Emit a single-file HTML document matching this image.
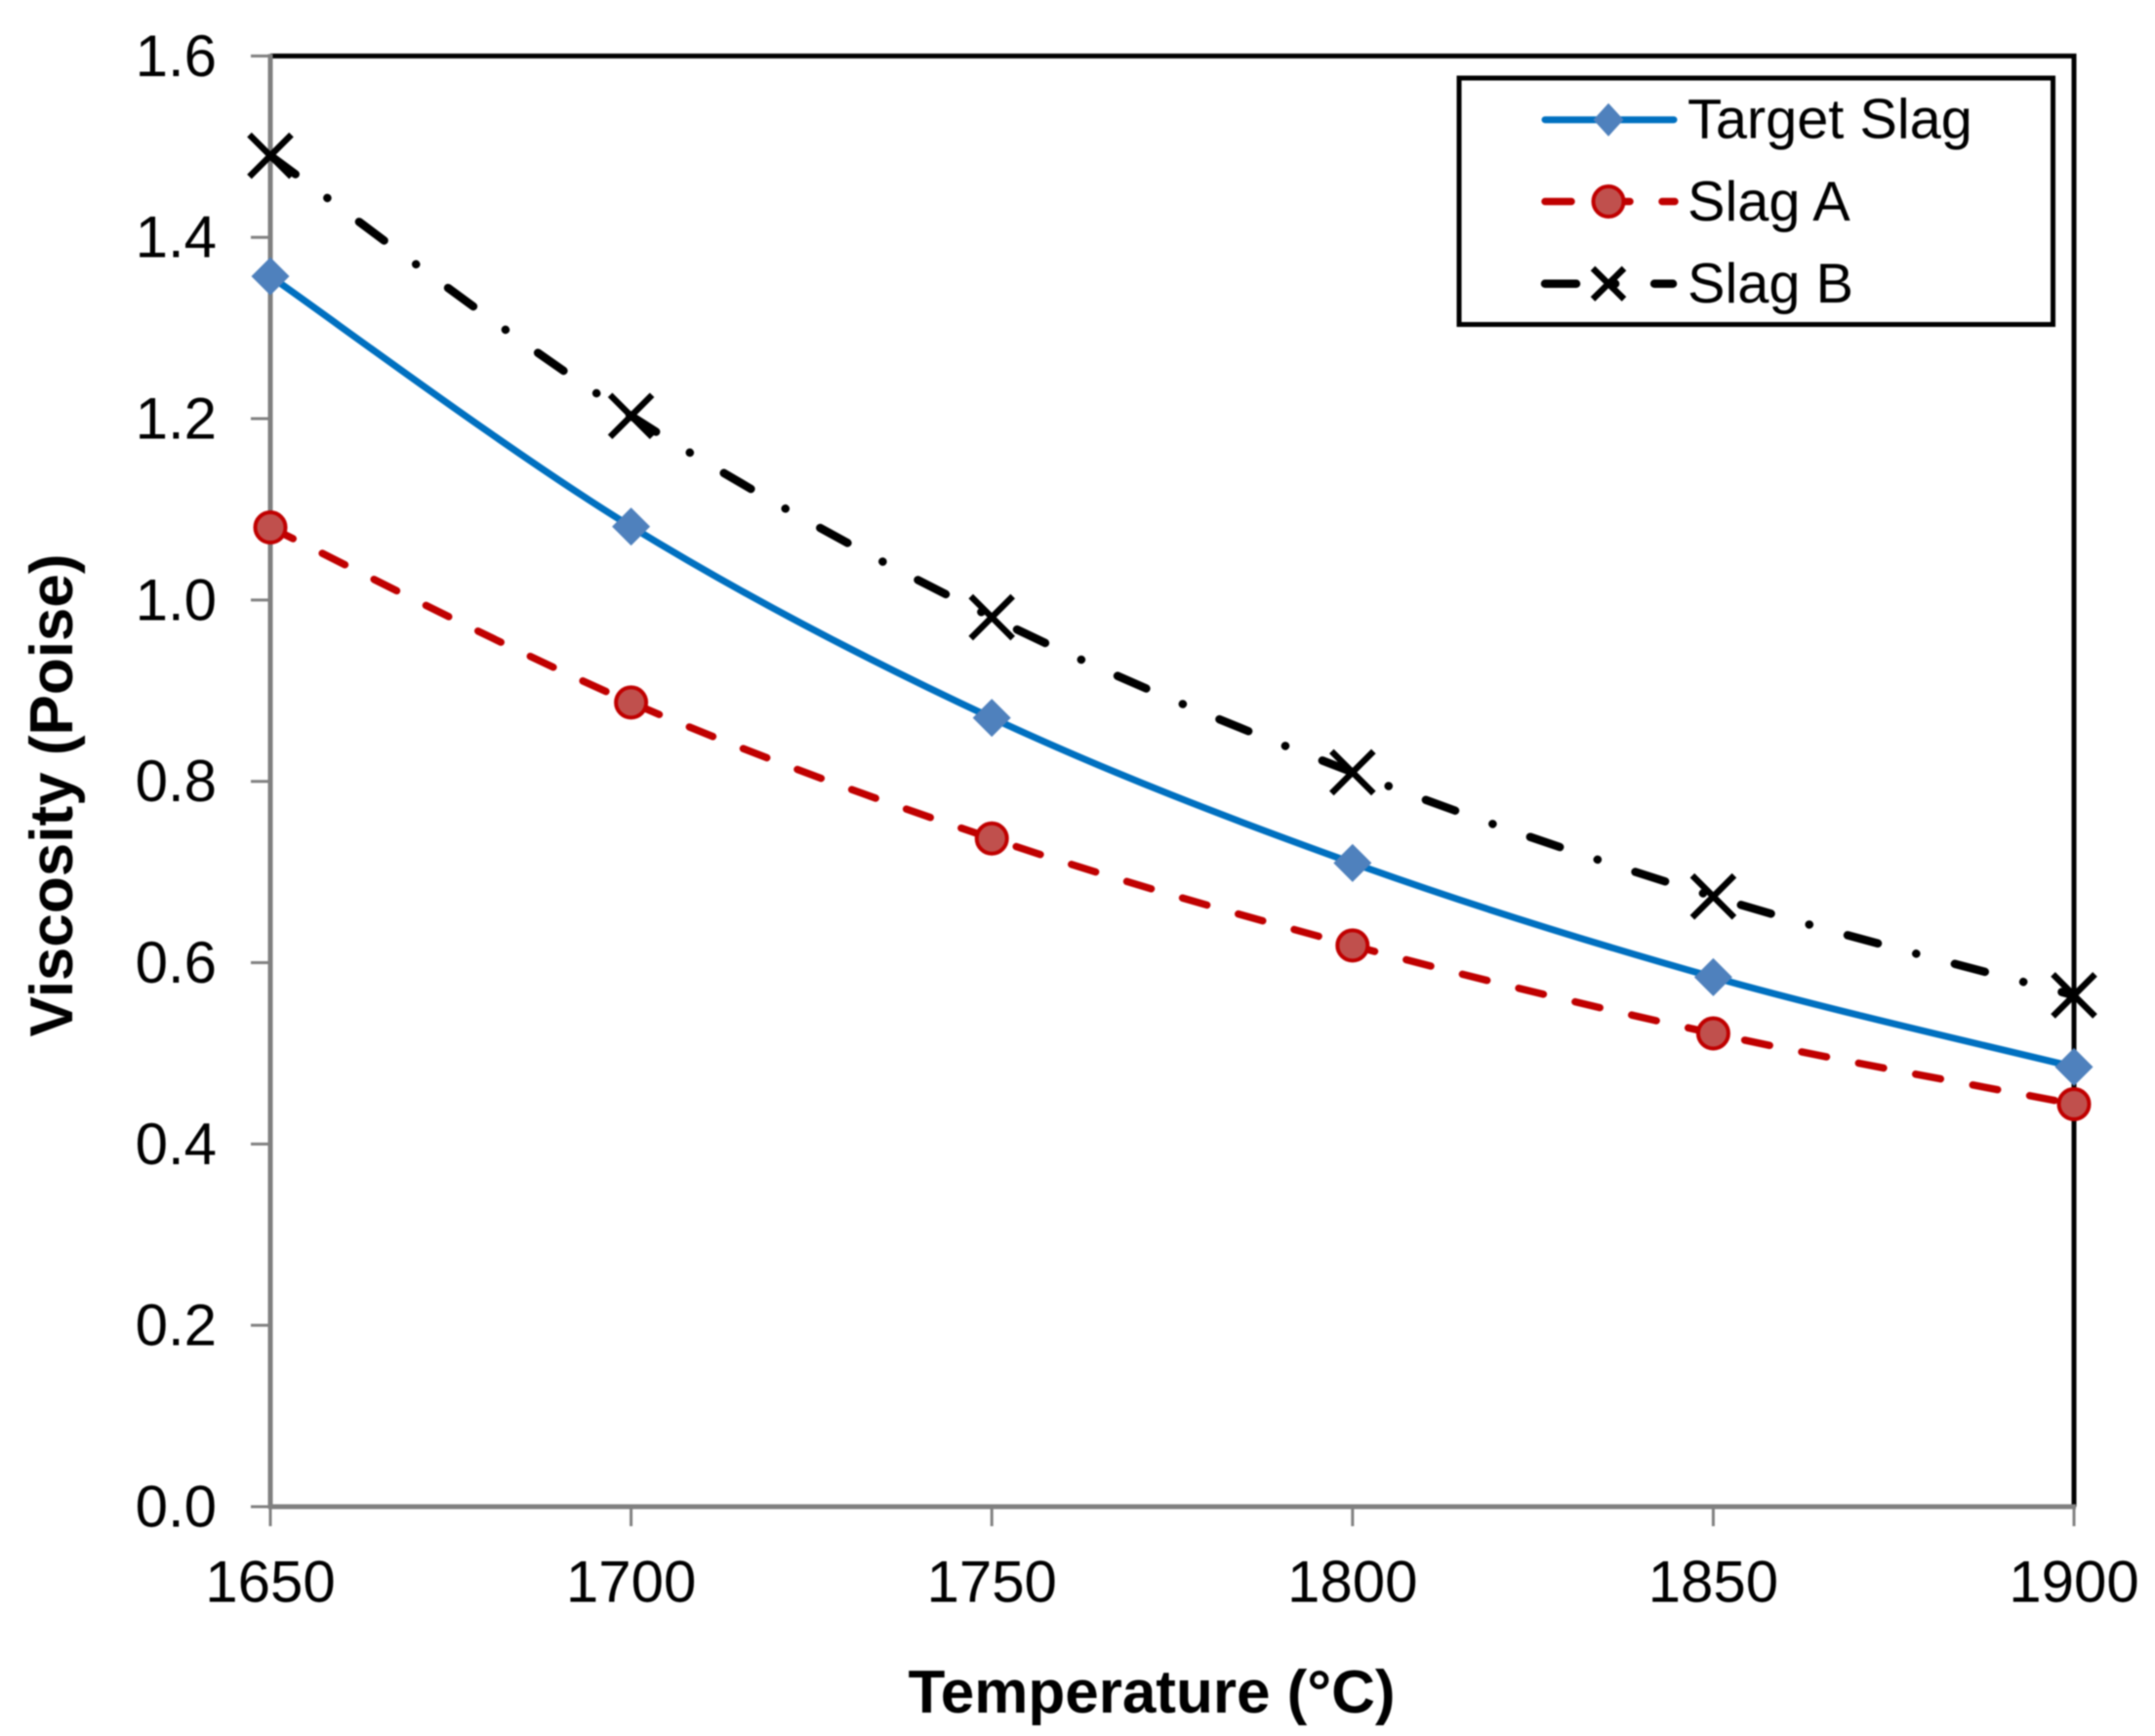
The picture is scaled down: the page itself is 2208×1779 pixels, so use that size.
<!DOCTYPE html>
<html lang="en">
<head>
<meta charset="utf-8">
<title>Viscosity vs Temperature</title>
<style>
html,body{margin:0;padding:0;background:#fff;}
#chart{display:block;width:2208px;height:1779px;font-family:"Liberation Sans",Arial,sans-serif;filter:blur(0.7px);}
</style>
</head>
<body>
<svg id="chart" xmlns="http://www.w3.org/2000/svg" width="2208" height="1779" viewBox="0 0 2208 1779">
  <rect x="0" y="0" width="2208" height="1779" fill="#ffffff"/>
  <g id="axes"></g>
  <g id="series"></g>
  <text x="1180" y="1755" font-size="62" font-weight="bold" text-anchor="middle" fill="#000">Temperature (°C)</text>
  <text transform="translate(74 815) rotate(-90)" font-size="62" font-weight="bold" text-anchor="middle" fill="#000">Viscosity (Poise)</text>
  <g>
    <rect x="1495" y="80" width="608.5" height="252.5" fill="#ffffff" stroke="#000" stroke-width="5"/>
    <g>
      <path d="M1583 122.7H1715" fill="none" stroke="#0070C0" stroke-width="7" stroke-linecap="round"/>
      <path d="M1648 105.7L1663.5 122.7L1648 139.7L1632.5 122.7Z" fill="#4F81BD"/>
      <text x="1729" y="141.5" font-size="57.7" fill="#000">Target Slag</text>
    </g>
    <g>
      <path d="M1583 206.5H1716" fill="none" stroke="#C00000" stroke-width="7.5" stroke-linecap="round" stroke-dasharray="27 33"/>
      <circle cx="1648" cy="206.5" r="15.5" fill="#C0504D" stroke="#C00000" stroke-width="4"/>
      <text x="1729" y="226" font-size="57.7" fill="#000">Slag A</text>
    </g>
    <g>
      <path d="M1583 290.7H1714" fill="none" stroke="#000" stroke-width="8.5" stroke-linecap="round" stroke-dasharray="32 40 0.1 40"/>
      <path d="M1632 275L1664 306.5M1664 275L1632 306.5" fill="none" stroke="#000" stroke-width="6.5"/>
      <text x="1729" y="310" font-size="57.7" fill="#000">Slag B</text>
    </g>
  </g>
</svg>
<script>
const temperatures = [1650, 1700, 1750, 1800, 1850, 1900];
const yTickValues = [0, 0.2, 0.4, 0.6, 0.8, 1.0, 1.2, 1.4, 1.6];
const yTickLabels = ["0.0", "0.2", "0.4", "0.6", "0.8", "1.0", "1.2", "1.4", "1.6"];
const xTickLabels = ["1650", "1700", "1750", "1800", "1850", "1900"];
const targetSlag = [1.357, 1.081, 0.870, 0.710, 0.584, 0.485];
const slagA = [1.080, 0.887, 0.737, 0.619, 0.522, 0.444];
const slagB = [1.490, 1.203, 0.981, 0.810, 0.673, 0.564];

const NS = "http://www.w3.org/2000/svg";
const plot = { left: 277, right: 2125, top: 57.4, bottom: 1544 };
const xMin = 1650, xMax = 1900, yMin = 0, yMax = 1.6;
function xScale(v) { return plot.left + (v - xMin) / (xMax - xMin) * (plot.right - plot.left); }
function yScale(v) { return plot.bottom - (v - yMin) / (yMax - yMin) * (plot.bottom - plot.top); }
function make(tag, attrs, parent) {
  const el = document.createElementNS(NS, tag);
  for (const k in attrs) el.setAttribute(k, attrs[k]);
  parent.appendChild(el);
  return el;
}
function smoothPath(values) {
  const p = values.map((v, i) => [xScale(temperatures[i]), yScale(v)]);
  let d = "M" + p[0][0] + " " + p[0][1];
  for (let i = 0; i < p.length - 1; i++) {
    const a = p[Math.max(i - 1, 0)], b = p[i], c = p[i + 1], e = p[Math.min(i + 2, p.length - 1)];
    d += "C" + (b[0] + (c[0] - a[0]) / 6) + " " + (b[1] + (c[1] - a[1]) / 6) + " " +
         (c[0] - (e[0] - b[0]) / 6) + " " + (c[1] - (e[1] - b[1]) / 6) + " " + c[0] + " " + c[1];
  }
  return d;
}

const axes = document.getElementById("axes");
const seriesLayer = document.getElementById("series");

yTickValues.forEach((v, i) => {
  const y = yScale(v);
  const tick = make("line", { x1: plot.left - 20, x2: plot.left, y1: y, y2: y, stroke: "#808080", "stroke-width": 3 }, axes);
  
  
  const label = make("text", { x: 222, y: y + 20.5, "font-size": 60, "text-anchor": "end", fill: "#000" }, axes);
  label.textContent = yTickLabels[i];
  
  
});

temperatures.forEach((t, i) => {
  const x = xScale(t);
  const tick = make("line", { x1: x, x2: x, y1: plot.bottom, y2: plot.bottom + 20, stroke: "#808080", "stroke-width": 3 }, axes);
  
  
  const label = make("text", { x: x, y: 1641.5, "font-size": 60, "text-anchor": "middle", fill: "#000" }, axes);
  label.textContent = xTickLabels[i];
  
  
});

const frameTop = make("line", { x1: plot.left, x2: plot.right + 2.5, y1: plot.top, y2: plot.top, stroke: "#000", "stroke-width": 5 }, axes);


const frameRight = make("line", { x1: plot.right, x2: plot.right, y1: plot.top, y2: plot.bottom, stroke: "#000", "stroke-width": 5 }, axes);


const xAxisLine = make("line", { x1: plot.left - 2, x2: plot.right + 2, y1: plot.bottom, y2: plot.bottom, stroke: "#808080", "stroke-width": 5 }, axes);


const yAxisLine = make("line", { x1: plot.left, x2: plot.left, y1: plot.top - 2, y2: plot.bottom + 2, stroke: "#808080", "stroke-width": 5 }, axes);



function drawLine(values, attrs) {
  return make("path", Object.assign({ d: smoothPath(values), fill: "none", "stroke-linecap": "round" }, attrs), seriesLayer);
}

const lineA = drawLine(slagA, { stroke: "#C00000", "stroke-width": 7.5, "stroke-dasharray": "26 33.45" });


slagA.forEach((v, i) => {
  const c = make("circle", { cx: xScale(temperatures[i]), cy: yScale(v), r: 15.5, fill: "#C0504D", stroke: "#C00000", "stroke-width": 4 }, seriesLayer);
  
  
});

const lineT = drawLine(targetSlag, { stroke: "#0070C0", "stroke-width": 7 });


targetSlag.forEach((v, i) => {
  const x = xScale(temperatures[i]), y = yScale(v), r = 19.5;
  const m = make("path", { d: "M" + x + " " + (y - r) + "L" + (x + r) + " " + y + "L" + x + " " + (y + r) + "L" + (x - r) + " " + y + "Z", fill: "#4F81BD" }, seriesLayer);
  
  
});

const lineB = drawLine(slagB, { stroke: "#000", "stroke-width": 8.5, "stroke-dasharray": "32 40.7 0.1 40.7" });


slagB.forEach((v, i) => {
  const x = xScale(temperatures[i]), y = yScale(v), r = 21.5;
  const m = make("path", { d: "M" + (x - r) + " " + (y - r) + "L" + (x + r) + " " + (y + r) + "M" + (x + r) + " " + (y - r) + "L" + (x - r) + " " + (y + r), fill: "none", stroke: "#000", "stroke-width": 6.5 }, seriesLayer);
  
  
});
</script>
</body>
</html>
